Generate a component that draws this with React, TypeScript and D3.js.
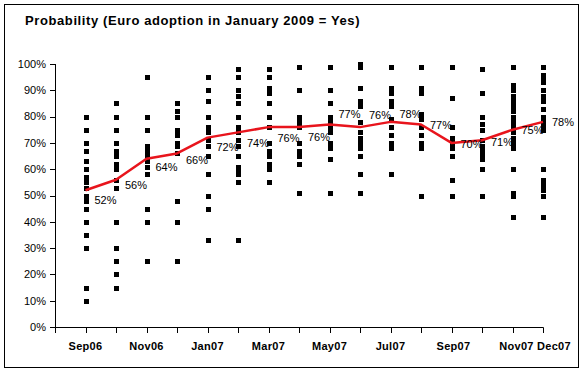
import React from "react";
import * as d3 from "d3";

const months = ["Sep06","Oct06","Nov06","Dec06","Jan07","Feb07","Mar07","Apr07","May07","Jun07","Jul07","Aug07","Sep07","Oct07","Nov07","Dec07"];
const shownMonthLabels = ["Sep06","Nov06","Jan07","Mar07","May07","Jul07","Sep07","Nov07","Dec07"];
const yTicks = [0,10,20,30,40,50,60,70,80,90,100];

const averages = [52,56,64,66,72,74,76,76,77,76,78,77,70,71,75,78];

const sep06 = [80,75,70,67,63,60,57,55,53,50,48,45,40,35,30,15,10];
const oct06 = [85,80,75,70,67,65,62,60,56,53,40,30,25,20,15];
const nov06 = [95,80,75,69,67,65,63,61,58,45,40,25];
const dec06 = [85,82,80,75,73,70,69,66,48,40,25];
const jan07 = [95,90,86,80,76,74,71,69,65,58,50,45,33];
const feb07 = [98,95,90,88,85,80,76,74,71,69,65,61,59,58,55,33];
const mar07 = [98,95,91,89,85,80,76,70,67,65,62,60,55];
const apr07 = [99,90,80,78,76,70,67,65,62,51];
const may07 = [99,90,85,80,78,76,74,70,68,64,51];
const jun07 = [100,99,91,86,84,78,74,72,70,68,65,58,51];
const jul07 = [99,91,89,86,84,79,76,73,70,68,58];
const aug07 = [99,91,89,81,79,76,73,70,68,50];
const sep07 = [99,87,76,72,70,68,65,56,50];
const oct07 = [98,89,80,77,75,71,69,67,65,64,60,50];
const nov07 = [99,92,90,88,86,84,82,80,78,76,74,72,70,68,60,51,50,42];
const dec07 = [99,96,95,93,90,88,87,86,83,80,78,76,75,60,56,54,52,50,42];
const responses = [sep06,oct06,nov06,dec06,jan07,feb07,mar07,apr07,may07,jun07,jul07,aug07,sep07,oct07,nov07,dec07];

// layout: vertical nudges of the average labels (pixels)
const labelDy = [10,5,8,7,10,11,11,10,-10,-12,-8,1,1,2,0,0];
// layout: horizontal nudges of the month labels (pixels)
const monthLabelDx: Record<string, number> = { Sep07: 2, Nov07: 4, Dec07: 11 };

export default function App() {
  const W = 585, H = 372;
  const x = d3.scaleLinear().domain([-1, months.length - 1]).range([55, 543]);
  const y = d3.scaleLinear().domain([0, 100]).range([327, 64]);
  const line = d3.line<number>().x((_, i) => x(i)).y(d => y(d));
  const font = "Arial, 'Liberation Sans', sans-serif";
  const xTickIdx = d3.range(-1, months.length);

  return (
    <svg width={W} height={H} style={{ position: "absolute", left: 0, top: 0, background: "#fff" }} fontFamily={font}>
      <rect x={0} y={0} width={W} height={H} fill="#fff" />
      <rect x={4.5} y={4.5} width={574} height={363} fill="none" stroke="#000" strokeWidth={1} />
      <text x={25} y={25} fontSize={13} fontWeight="bold" letterSpacing={0.6} fill="#000">Probability (Euro adoption in January 2009 = Yes)</text>

      {/* y axis */}
      <line x1={55.5} x2={55.5} y1={y(100)} y2={y(0)} stroke="#000" />
      {yTicks.map(t => (
        <g key={t}>
          <line x1={50} x2={55.5} y1={Math.round(y(t)) + 0.5} y2={Math.round(y(t)) + 0.5} stroke="#000" />
          <text x={46} y={y(t)} dy="0.35em" textAnchor="end" fontSize={11} fill="#000">{t}%</text>
        </g>
      ))}

      {/* x axis */}
      <line x1={55} x2={x(months.length - 1) + 0.5} y1={327.5} y2={327.5} stroke="#000" />
      {xTickIdx.map(i => (
        <line key={i} x1={Math.round(x(i)) + 0.5} x2={Math.round(x(i)) + 0.5} y1={327.5} y2={333} stroke="#000" />
      ))}
      {months.map((m, i) => shownMonthLabels.includes(m) ? (
        <text key={m} x={x(i) + (monthLabelDx[m] || 0)} y={350} textAnchor="middle" fontSize={11} fontWeight="bold" letterSpacing={0.3} fill="#000">{m}</text>
      ) : null)}

      {/* responses */}
      {responses.map((vals, i) => vals.map((v, j) => (
        <rect key={i + "-" + j} x={Math.round(x(i)) - 2} y={Math.round(y(v)) - 2} width={5} height={5} fill="#000" />
      )))}

      {/* average line */}
      <path d={line(averages) || ""} fill="none" stroke="#e8141c" strokeWidth={2.5} strokeLinejoin="round" />
      {averages.map((v, i) => (
        <text key={"l" + i} x={x(i) + 9} y={y(v) + labelDy[i]} dy="0.35em" fontSize={11} fill="#000">{v}%</text>
      ))}
    </svg>
  );
}
